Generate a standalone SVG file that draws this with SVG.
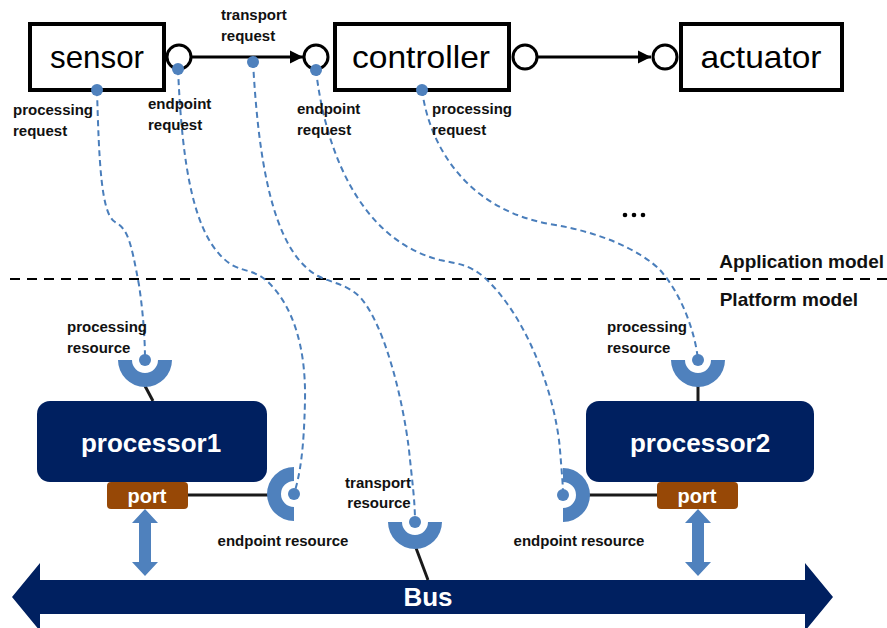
<svg xmlns="http://www.w3.org/2000/svg" width="887" height="628" viewBox="0 0 887 628">
  <style>
    .box { fill: #ffffff; stroke: #000000; stroke-width: 4; }
    .iface { fill: #ffffff; stroke: #000000; stroke-width: 3; }
    .boxtext { font-family: "Liberation Sans", Arial, sans-serif; font-size: 32px; fill: #000000; text-anchor: middle; }
    .lbl { font-family: "Liberation Sans", Arial, sans-serif; font-size: 15px; font-weight: bold; fill: #111111; }
    .mid { text-anchor: middle; }
    .layer { font-family: "Liberation Sans", Arial, sans-serif; font-size: 19px; font-weight: bold; fill: #111111; text-anchor: end; }
    .proc { fill: #002060; }
    .proctext { font-family: "Liberation Sans", Arial, sans-serif; font-size: 26px; font-weight: bold; fill: #ffffff; text-anchor: middle; }
    .port { fill: #974806; }
    .porttext { font-family: "Liberation Sans", Arial, sans-serif; font-size: 20px; font-weight: bold; fill: #ffffff; text-anchor: middle; }
    .res { fill: #4f81bd; }
    .dot { fill: #4f81bd; }
    .link { fill: none; stroke: #4a7ebb; stroke-width: 2; stroke-dasharray: 6 4; }
    .wire { fill: none; stroke: #1a1a1a; stroke-width: 3; }
    .flow { fill: none; stroke: #000000; stroke-width: 3; }
    .sep { fill: none; stroke: #000000; stroke-width: 2; stroke-dasharray: 10 7; }
    .dbl { fill: #4f81bd; }
  </style>
  <defs>
    <marker id="arrowhead" viewBox="0 0 10 10" refX="10" refY="5" markerWidth="4.5" markerHeight="4.5" orient="auto" markerUnits="strokeWidth">
      <path d="M0,0 L10,5 L0,10 Z" fill="#000000"/>
    </marker>
    <!-- half-ring sockets, centred on the origin -->
    <path id="socketDown" d="M-27,0 A27,27 0 0 0 27,0 L13,0 A13,13 0 0 1 -13,0 Z"/>
    <path id="socketLeft" d="M0,-27 A27,27 0 0 0 0,27 L0,13 A13,13 0 0 1 0,-13 Z"/>
    <path id="socketRight" d="M0,-27 A27,27 0 0 1 0,27 L0,13 A13,13 0 0 0 0,-13 Z"/>
    <polygon id="bidir" points="0,0 13,14 6,14 6,53 13,53 0,67 -13,53 -6,53 -6,14 -13,14"/>
  </defs>

  <!-- application layer / platform layer separator -->
  <g id="layers">
    <line class="sep" x1="10" y1="279" x2="887" y2="279"/>
    <text class="layer" x="884" y="268">Application model</text>
    <text class="layer" x="858" y="306">Platform model</text>
    <g id="more">
      <circle cx="625" cy="215" r="2.3" fill="#000"/>
      <circle cx="634" cy="215" r="2.3" fill="#000"/>
      <circle cx="643" cy="215" r="2.3" fill="#000"/>
    </g>
  </g>

  <!-- bus -->
  <g id="bus">
    <polygon class="proc" points="12,597 40,563 40,580 805,580 805,563 833,597 805,631 805,614 40,614 40,631"/>
    <text class="proctext" x="428" y="606" font-size="25">Bus</text>
  </g>

  <!-- connectors -->
  <g id="connectors">
    <line class="flow" x1="192" y1="57" x2="303" y2="57" marker-end="url(#arrowhead)"/>
    <line class="flow" x1="538" y1="57" x2="651" y2="57" marker-end="url(#arrowhead)"/>

    <path class="link" d="M97,90 C99,160 101,214 115,222 C128,229 131,242 139,285 C143,312 145,338 145,360"/>
    <path class="link" d="M178,69 C182,160 192,240 232,265 C245,272 255,270 268,282 C292,305 306,345 305,400 C304,450 300,475 294,494"/>
    <path class="link" d="M253,62 C258,150 270,250 318,276 C331,283 345,283 360,297 C385,325 403,400 409,450 C412,480 415,500 415,522"/>
    <path class="link" d="M316,70 C325,150 360,240 440,260 C460,264 470,265 485,278 C530,320 556,400 560,450 C562,475 563,485 563,495"/>
    <path class="link" d="M422,90 C430,150 470,210 550,224 C600,232 640,250 660,270 C680,292 695,330 698,360"/>

    <line class="wire" x1="145" y1="386" x2="153" y2="401"/>
    <line class="wire" x1="698" y1="386" x2="698" y2="401"/>
    <line class="wire" x1="416" y1="548" x2="428" y2="580"/>
    <line class="wire" x1="188" y1="495" x2="268" y2="495"/>
    <line class="wire" x1="589" y1="495" x2="657" y2="495"/>

    <use href="#bidir" class="dbl" x="145" y="509"/>
    <use href="#bidir" class="dbl" x="698" y="509"/>
  </g>

  <!-- application components -->
  <g id="sensor">
    <rect class="box" x="30" y="24" width="134" height="66"/>
    <circle class="iface" cx="179" cy="57" r="12"/>
    <text class="boxtext" x="97" y="68" textLength="94" lengthAdjust="spacingAndGlyphs">sensor</text>
    <circle class="dot" cx="97" cy="90" r="6"/>
    <circle class="dot" cx="178" cy="69" r="6"/>
    <text class="lbl" x="13" y="115">processing</text>
    <text class="lbl" x="13" y="136">request</text>
    <text class="lbl" x="148" y="109">endpoint</text>
    <text class="lbl" x="148" y="130">request</text>
  </g>

  <g id="transport-request">
    <circle class="dot" cx="253" cy="62" r="6"/>
    <text class="lbl" x="221" y="20">transport</text>
    <text class="lbl" x="221" y="41">request</text>
  </g>

  <g id="controller">
    <rect class="box" x="335" y="24" width="174" height="66"/>
    <circle class="iface" cx="316" cy="57" r="12"/>
    <circle class="iface" cx="525" cy="57" r="12"/>
    <text class="boxtext" x="421" y="68" textLength="138" lengthAdjust="spacingAndGlyphs">controller</text>
    <circle class="dot" cx="316" cy="70" r="6"/>
    <circle class="dot" cx="422" cy="90" r="6"/>
    <text class="lbl" x="297" y="114">endpoint</text>
    <text class="lbl" x="297" y="135">request</text>
    <text class="lbl" x="432" y="114">processing</text>
    <text class="lbl" x="432" y="135">request</text>
  </g>

  <g id="actuator">
    <rect class="box" x="681" y="24" width="161" height="66"/>
    <circle class="iface" cx="665" cy="57" r="12"/>
    <text class="boxtext" x="761" y="68" textLength="121" lengthAdjust="spacingAndGlyphs">actuator</text>
  </g>

  <!-- platform components -->
  <g id="processor1">
    <rect class="proc" x="37" y="401" width="230" height="81" rx="13"/>
    <text class="proctext" x="151" y="452">processor1</text>
  </g>

  <g id="processor2">
    <rect class="proc" x="586" y="401" width="228" height="81" rx="13"/>
    <text class="proctext" x="700" y="452">processor2</text>
  </g>

  <g id="port1">
    <rect class="port" x="107" y="482" width="81" height="27" rx="4"/>
    <text class="porttext" x="147" y="503">port</text>
  </g>

  <g id="port2">
    <rect class="port" x="657" y="482" width="81" height="27" rx="4"/>
    <text class="porttext" x="697" y="503">port</text>
  </g>

  <g id="processing-resource1">
    <use href="#socketDown" class="res" x="145" y="360"/>
    <circle class="dot" cx="145" cy="360" r="6"/>
    <text class="lbl" x="67" y="332">processing</text>
    <text class="lbl" x="67" y="353">resource</text>
  </g>

  <g id="processing-resource2">
    <use href="#socketDown" class="res" x="698" y="360"/>
    <circle class="dot" cx="698" cy="360" r="6"/>
    <text class="lbl" x="607" y="332">processing</text>
    <text class="lbl" x="607" y="353">resource</text>
  </g>

  <g id="endpoint-resource1">
    <use href="#socketLeft" class="res" x="294" y="494"/>
    <circle class="dot" cx="294" cy="494" r="6"/>
    <text class="lbl mid" x="283" y="546">endpoint resource</text>
  </g>

  <g id="endpoint-resource2">
    <use href="#socketRight" class="res" x="563" y="495"/>
    <circle class="dot" cx="563" cy="495" r="6"/>
    <text class="lbl mid" x="579" y="546">endpoint resource</text>
  </g>

  <g id="transport-resource">
    <use href="#socketDown" class="res" x="415" y="522"/>
    <circle class="dot" cx="415" cy="522" r="6"/>
    <text class="lbl mid" x="378" y="488">transport</text>
    <text class="lbl mid" x="379" y="508">resource</text>
  </g>
</svg>
